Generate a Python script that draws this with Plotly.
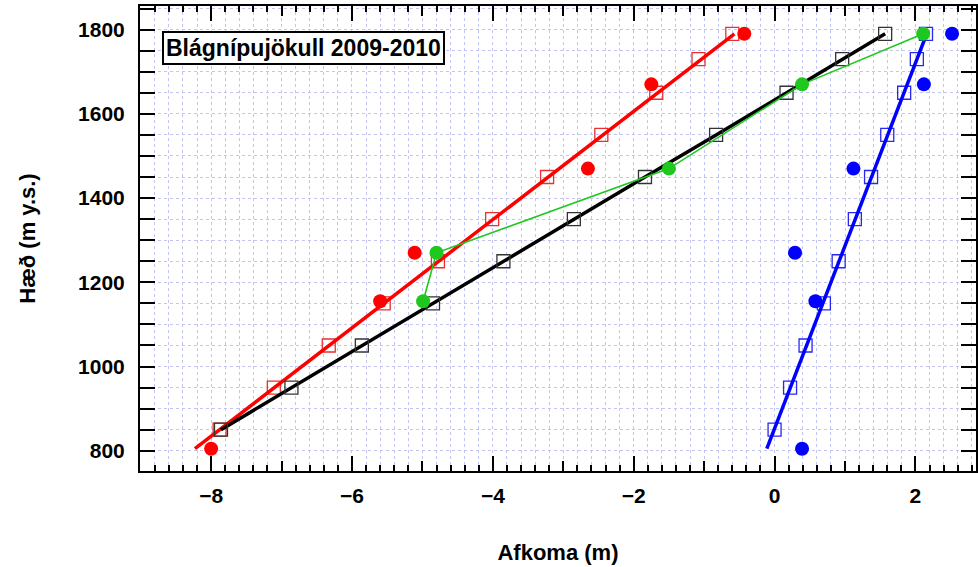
import plotly.graph_objects as go

# ---- data ----
sq_h = [850, 950, 1050, 1150, 1250, 1350, 1450, 1550, 1650, 1730, 1790]
red_sq = [-7.88, -7.11, -6.33, -5.55, -4.78, -4.01, -3.23, -2.46, -1.68, -1.08, -0.60]
black_sq = [-7.86, -6.86, -5.86, -4.85, -3.85, -2.85, -1.84, -0.83, 0.17, 0.96, 1.57]
blue_sq = [0.00, 0.22, 0.44, 0.70, 0.91, 1.14, 1.37, 1.60, 1.84, 2.02, 2.15]

dot_h = [805, 1155, 1270, 1470, 1670, 1790]
red_dot = [-8.00, -5.60, -5.11, -2.65, -1.75, -0.43]
blue_dot = [0.39, 0.58, 0.29, 1.12, 2.12, 2.52]

green_h = [1155, 1270, 1470, 1670, 1790]
green_dot = [-4.99, -4.80, -1.50, 0.39, 2.11]

red_fit_h = [805, 1790]
red_fit_x = [-8.23, -0.57]
blue_fit_h = [805, 1790]
blue_fit_x = [-0.11, 2.16]

title_text = "Blágnípujökull 2009-2010"
x_title = "Afkoma (m)"
y_title = "Hæð (m y.s.)"

FONT = "Liberation Sans, Arial, sans-serif"
GRID = "#c4c4f0"
XR = [-9.01, 2.86]
YR = [752, 1856]

fig = go.Figure()

# hollow squares
fig.add_trace(go.Scatter(x=red_sq, y=sq_h, mode="markers",
                         marker=dict(symbol="square-open", size=13, color="#e83030",
                                     line=dict(width=1.3))))
fig.add_trace(go.Scatter(x=blue_sq, y=sq_h, mode="markers",
                         marker=dict(symbol="square-open", size=13, color="#2828f0",
                                     line=dict(width=1.3))))
# fitted lines
fig.add_trace(go.Scatter(x=red_fit_x, y=red_fit_h, mode="lines",
                         line=dict(color="#ff0000", width=3.5)))
fig.add_trace(go.Scatter(x=blue_fit_x, y=blue_fit_h, mode="lines",
                         line=dict(color="#0000ff", width=3.5)))
fig.add_trace(go.Scatter(x=black_sq, y=sq_h, mode="lines",
                         line=dict(color="#000000", width=3.5)))
fig.add_trace(go.Scatter(x=black_sq, y=sq_h, mode="markers",
                         marker=dict(symbol="square-open", size=13, color="#333333",
                                     line=dict(width=1.3))))
# green
fig.add_trace(go.Scatter(x=green_dot, y=green_h, mode="lines+markers",
                         line=dict(color="#1ec81e", width=1.6),
                         marker=dict(symbol="circle", size=14, color="#1ec81e")))
# dots (on overlay axis, drawn on top)
fig.add_trace(go.Scatter(x=red_dot, y=dot_h, mode="markers", xaxis="x2",
                         marker=dict(symbol="circle", size=14, color="#ff0000")))
fig.add_trace(go.Scatter(x=blue_dot, y=dot_h, mode="markers", xaxis="x2",
                         marker=dict(symbol="circle", size=14, color="#0000ff")))

fig.update_layout(
    width=978, height=567,
    margin=dict(l=140, r=0, t=6, b=96),
    paper_bgcolor="white", plot_bgcolor="white",
    showlegend=False,
    font=dict(family=FONT, color="black"),
    xaxis=dict(range=XR, dtick=2, tick0=0, ticks="inside", ticklen=15, tickwidth=2,
               tickcolor="black", showline=True, linewidth=2, linecolor="black",
               mirror="allticks", zeroline=False,
               showgrid=True, gridcolor=GRID, griddash="dot", gridwidth=1,
               tickfont=dict(size=21, weight="bold", family=FONT),
               ticklabelstandoff=5,
               title=dict(text=x_title, font=dict(size=22, weight="bold", family=FONT),
                          standoff=38),
               minor=dict(dtick=0.2, tick0=0, ticks="inside", ticklen=6, tickwidth=2,
                          tickcolor="black", showgrid=True, gridcolor=GRID,
                          griddash="dot", gridwidth=1)),
    xaxis2=dict(range=XR, overlaying="x", anchor="y", side="bottom", dtick=1, tick0=0,
                ticks="inside", ticklen=10, tickwidth=2, tickcolor="black",
                showticklabels=False, showgrid=False, zeroline=False,
                showline=False, mirror="allticks"),
    yaxis=dict(range=YR, dtick=200, tick0=0, ticks="inside", ticklen=15, tickwidth=2,
               tickcolor="black", showline=True, linewidth=2, linecolor="black",
               mirror="allticks", zeroline=False,
               showgrid=True, gridcolor=GRID, griddash="dot", gridwidth=1,
               tickfont=dict(size=21, weight="bold", family=FONT),
               ticklabelstandoff=9,
               title=dict(text=y_title, font=dict(size=22, weight="bold", family=FONT),
                          standoff=36),
               minor=dict(dtick=50, tick0=0, ticks="inside", ticklen=7, tickwidth=2,
                          tickcolor="black", showgrid=True, gridcolor=GRID,
                          griddash="dot", gridwidth=1)),
    annotations=[dict(text=title_text, xref="paper", yref="paper", x=0.026, y=0.946,
                      xanchor="left", yanchor="top", showarrow=False,
                      font=dict(size=23, weight="bold", family=FONT, color="black"),
                      bgcolor="white", bordercolor="black", borderwidth=2, borderpad=2)],
)

fig.write_html("out.html", config={"displayModeBar": False})
